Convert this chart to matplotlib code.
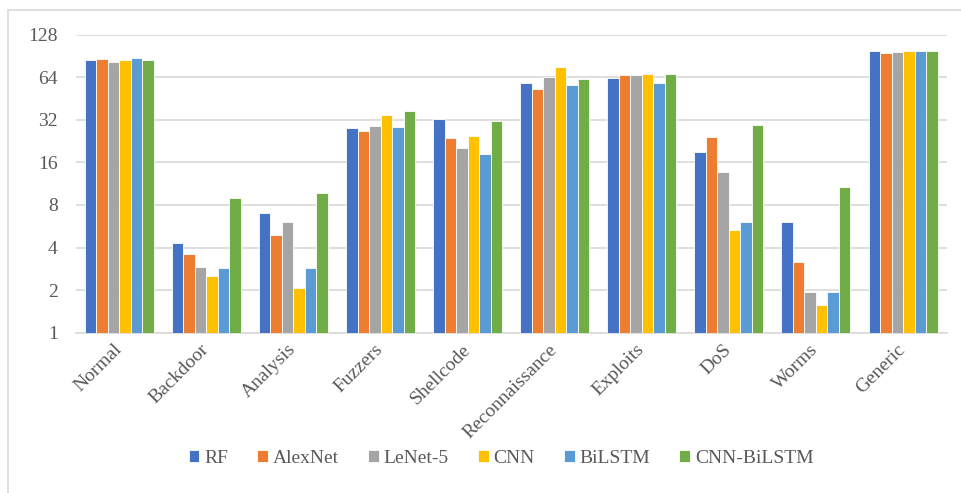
import matplotlib
matplotlib.use("Agg")
import matplotlib.pyplot as plt
import matplotlib.transforms as mtransforms
import numpy as np
from matplotlib.lines import Line2D

categories = ["Normal", "Backdoor", "Analysis", "Fuzzers", "Shellcode",
              "Reconnaissance", "Exploits", "DoS", "Worms", "Generic"]

rf = [85, 4.3, 7.0, 28.0, 32.7, 57.9, 63.2, 18.9, 6.05, 98.0]
alexnet = [86.5, 3.6, 4.9, 26.6, 23.9, 52.8, 66.7, 24.3, 3.15, 95.0]
lenet5 = [82, 2.92, 6.05, 29.0, 20.1, 64.2, 66.7, 13.6, 1.95, 96.5]
cnn = [85, 2.53, 2.08, 34.6, 24.7, 75.1, 67.7, 5.3, 1.57, 98.0]
bilstm = [88, 2.87, 2.87, 28.4, 18.3, 56.6, 57.9, 6.05, 1.95, 98.0]
cnn_bilstm = [85, 8.9, 9.7, 37.1, 31.2, 61.8, 67.7, 29.4, 10.8, 98.0]

series = [("RF", rf, "#4472C4"),
          ("AlexNet", alexnet, "#ED7D31"),
          ("LeNet-5", lenet5, "#A5A5A5"),
          ("CNN", cnn, "#FFC000"),
          ("BiLSTM", bilstm, "#5B9BD5"),
          ("CNN-BiLSTM", cnn_bilstm, "#70AD47")]

yticks = [1, 2, 4, 8, 16, 32, 64, 128]

plt.rcParams["font.family"] = ["Liberation Serif", "DejaVu Serif"]

fig = plt.figure(figsize=(9.62, 4.93), dpi=100)
ax = fig.add_axes([0.0787, 0.3252, 0.9053, 0.6044])

x = np.arange(len(categories))
w = 0.132
for i, (name, vals, col) in enumerate(series):
    ax.bar(x + (i - 2.5) * w, vals, w, color=col, edgecolor="white",
           linewidth=0.6, label=name, zorder=3)

ax.set_yscale("log", base=2)
ax.set_ylim(1, 128)
ax.set_yticks(yticks)
ax.set_yticklabels([str(t) for t in yticks])
ax.set_xlim(-0.5, len(categories) - 0.5)
ax.set_xticks(x)
ax.set_xticklabels(categories, rotation=45, ha="right")
ax.tick_params(axis="both", length=0, colors="#595959", labelsize=14)
ax.tick_params(axis="y", pad=13)
ax.tick_params(axis="x", pad=6)
ax.minorticks_off()

# nudge rotated labels a little to the right, like the original
shift = mtransforms.ScaledTranslation(6 / 100, 0, fig.dpi_scale_trans)
for lbl in ax.get_xticklabels():
    lbl.set_transform(lbl.get_transform() + shift)

ax.grid(axis="y", color="#D9D9D9", linewidth=1.2, zorder=0)
for s in ["top", "right", "left"]:
    ax.spines[s].set_visible(False)
ax.spines["bottom"].set_color("#D9D9D9")
ax.spines["bottom"].set_linewidth(1.2)

ax.legend(loc="center", bbox_to_anchor=(0.521, 0.07), bbox_transform=fig.transFigure,
          ncol=6, frameon=False, fontsize=14, handlelength=0.55, handleheight=0.55,
          handletextpad=0.25, columnspacing=1.5, labelcolor="#595959")

# chart border (left and top only visible)
fig.add_artist(Line2D([0.0078, 0.0078], [0, 1 - 9.5 / 493], color="#D9D9D9",
                      linewidth=1.2, transform=fig.transFigure))
fig.add_artist(Line2D([0.0078, 1], [1 - 9.5 / 493, 1 - 9.5 / 493], color="#D9D9D9",
                      linewidth=1.2, transform=fig.transFigure))

fig.savefig("out.png", dpi=100)
